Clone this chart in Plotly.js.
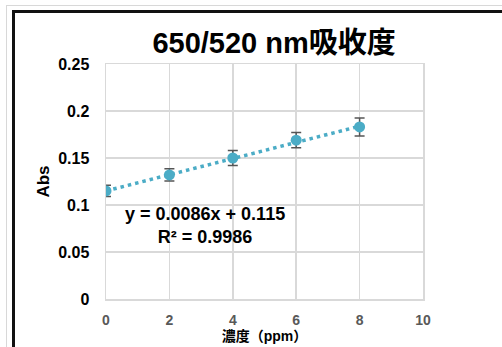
<!DOCTYPE html>
<html>
<head>
<meta charset="utf-8">
<script src="https://cdn.plot.ly/plotly-3.0.1.min.js"></script>
<style>
html,body{margin:0;padding:0;background:#fff;}
#wrap{position:relative;width:502px;height:347px;overflow:hidden;}
#chart{position:absolute;left:0;top:0;width:502px;height:347px;}
#outer{position:absolute;left:6px;top:5px;width:600px;height:400px;border-left:1px solid #d8d8d8;border-top:1px solid #d8d8d8;pointer-events:none;}
#frame{position:absolute;left:12px;top:10px;width:600px;height:400px;border-left:3px solid #111;border-top:3px solid #111;pointer-events:none;}
</style>
</head>
<body>
<div id="wrap">
<div id="chart"></div>
<div id="outer"></div>
<div id="frame"></div>
</div>
<script>
const conc = [0, 2, 4, 6, 8];
const absVals = [0.115, 0.132, 0.150, 0.169, 0.183];
const errVals = [0.006, 0.0065, 0.008, 0.008, 0.0095];
const trendX = [0, 8];
const trendY = [0.115, 0.1838];
const xTicks = [0, 2, 4, 6, 8, 10];
const yTicks = [0, 0.05, 0.1, 0.15, 0.2, 0.25];
const yTickText = ['0', '0.05', '0.1', '0.15', '0.2', '0.25'];

const font = 'Liberation Sans, Arial, "Noto Sans CJK JP", sans-serif';
const color = '#4BACC6';

const traces = [
  {
    x: trendX, y: trendY, mode: 'lines', type: 'scatter',
    line: {color: color, width: 3.5, dash: '3.5px,4px'},
    hoverinfo: 'skip', showlegend: false
  },
  {
    x: conc, y: absVals, mode: 'markers', type: 'scatter',
    marker: {color: color, size: 11},
    error_y: {type: 'data', array: errVals, visible: true, color: '#555555', thickness: 1.5, width: 5},
    showlegend: false
  }
];

const layout = {
  width: 502, height: 347,
  margin: {l: 106, r: 79, t: 64, b: 48},
  paper_bgcolor: '#fff', plot_bgcolor: '#fff',
  font: {family: font, color: '#000'},
  title: {
    text: '<b>650/520 nm吸收度</b>',
    font: {size: 29, color: '#000', family: font},
    xref: 'container', yref: 'container',
    x: 0.546, y: 1 - 43/347, xanchor: 'center', yanchor: 'middle'
  },
  xaxis: {
    range: [0, 10], tickvals: xTicks, ticktext: xTicks.map(String),
    showgrid: true, gridcolor: '#d9d9d9', gridwidth: 1.5,
    zeroline: false, showline: true, linecolor: '#d9d9d9', linewidth: 1.5, mirror: true,
    ticks: '', ticklabelstandoff: 8,
    tickfont: {size: 14, color: '#595959', family: font, weight: 'bold'},
    title: {text: '<b>濃度（ppm）</b>', font: {size: 14, color: '#000', family: font}, standoff: 2},
    fixedrange: true
  },
  yaxis: {
    range: [0, 0.25], tickvals: yTicks, ticktext: yTickText,
    showgrid: true, gridcolor: '#d9d9d9', gridwidth: 1.5,
    zeroline: false, showline: true, linecolor: '#d9d9d9', linewidth: 1.5, mirror: true,
    ticks: '', ticklabelstandoff: 12,
    tickfont: {size: 16, color: '#000', family: font, weight: 'bold'},
    title: {text: '<b>Abs</b>', font: {size: 17, color: '#000', family: font}, standoff: 4},
    fixedrange: true
  },
  annotations: [
    {
      xref: 'paper', yref: 'paper',
      x: (204.5 - 106) / 317, y: (299 - 225.5) / 235,
      xanchor: 'center', yanchor: 'middle', align: 'center',
      text: '<b>y = 0.0086x + 0.115<br>R² = 0.9986</b>',
      showarrow: false,
      font: {size: 18, color: '#000', family: font}
    }
  ]
};

Plotly.newPlot('chart', traces, layout, {displayModeBar: false, staticPlot: true});
</script>
</body>
</html>
